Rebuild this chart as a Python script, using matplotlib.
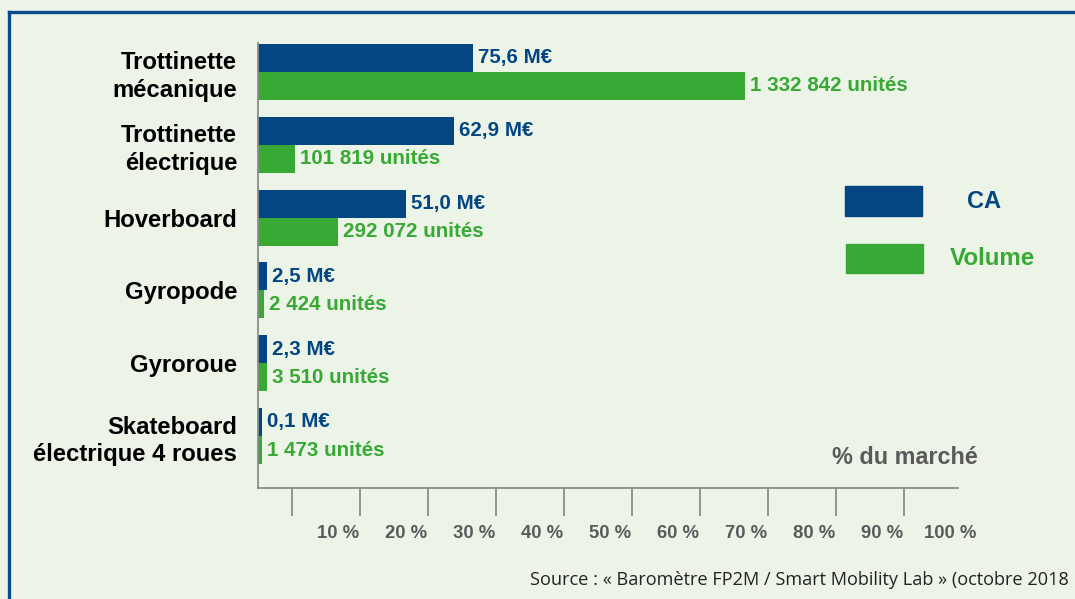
import matplotlib
matplotlib.use("Agg")
import matplotlib.pyplot as plt
from matplotlib.lines import Line2D
from matplotlib.patches import Rectangle
import matplotlib.transforms as mtransforms
import numpy as np

# data (share of market, %)
categories = ["Trottinette\nmécanique", "Trottinette\nélectrique", "Hoverboard",
              "Gyropode", "Gyroroue", "Skateboard\nélectrique 4 roues"]
ca_pct = [31.6, 28.8, 21.8, 1.3, 1.3, 0.6]
vol_pct = [71.6, 5.4, 11.8, 0.9, 1.3, 0.6]
ca_labels = ["75,6 M€", "62,9 M€", "51,0 M€", "2,5 M€", "2,3 M€", "0,1 M€"]
vol_labels = ["1 332 842 unités", "101 819 unités", "292 072 unités",
              "2 424 unités", "3 510 unités", "1 473 unités"]
tick_labels = ["10 %", "20 %", "30 %", "40 %", "50 %", "60 %", "70 %", "80 %", "90 %", "100 %"]

BLUE = "#034681"
GREEN = "#38a935"
GREY = "#5a5a5a"
BG = "#ecf4e8"

W, H = 1075, 599
fig = plt.figure(figsize=(W / 100, H / 100), dpi=100, facecolor=BG)
plt.rcParams['font.family'] = ['Liberation Sans', 'DejaVu Sans']

# axes box in pixels: left 258, right 958, top 43, bottom 488
ax = fig.add_axes([258 / W, 1 - 488 / H, 700 / W, 445 / H])
ax.set_facecolor(BG)

y = np.arange(len(categories))
h = 0.385
ax.barh(y - h / 2, ca_pct, height=h, color=BLUE)
ax.barh(y + h / 2, vol_pct, height=h, color=GREEN)

for i in range(len(categories)):
    ax.annotate(ca_labels[i], (ca_pct[i], y[i] - h / 2), xytext=(3.5, 0),
                textcoords="offset points", va="center", ha="left",
                fontsize=14.8, fontweight="bold", color=BLUE)
    ax.annotate(vol_labels[i], (vol_pct[i], y[i] + h / 2), xytext=(3.5, 0),
                textcoords="offset points", va="center", ha="left",
                fontsize=14.8, fontweight="bold", color=GREEN)

ax.set_xlim(0, 102.9)
ax.set_ylim(5.714, -0.398)

ax.set_yticks(y)
ax.set_yticklabels(categories, fontsize=17.2, fontweight="bold", linespacing=1.25)
ax.tick_params(axis="y", length=0, pad=15)

ax.set_xticks(np.arange(5, 100, 10))
ax.set_xticklabels([])
ax.tick_params(axis="x", direction="out", length=20, width=1.3, color="#8c8c8c")

trans = mtransforms.blended_transform_factory(ax.transData, fig.transFigure)
for k, lab in enumerate(tick_labels):
    ax.text((k + 1) * 10 + 1.7, 1 - 533 / H, lab, transform=trans, ha="center", va="center",
            fontsize=13.3, fontweight="bold", color=GREY)

for s in ["top", "right"]:
    ax.spines[s].set_visible(False)
for s in ["left", "bottom"]:
    ax.spines[s].set_color("#8c8c8c")
    ax.spines[s].set_linewidth(1.3)

fig.text(978 / W, 1 - 458 / H, "% du marché", ha="right", va="center",
         fontsize=16.8, fontweight="bold", color=GREY)

# legend
fig.patches.append(Rectangle((845 / W, 1 - 216 / H), 77 / W, 30 / H,
                             transform=fig.transFigure, color=BLUE))
fig.patches.append(Rectangle((846 / W, 1 - 273 / H), 77 / W, 29 / H,
                             transform=fig.transFigure, color=GREEN))
fig.text(984 / W, 1 - 202 / H, "CA", ha="center", va="center",
         fontsize=17, fontweight="bold", color=BLUE)
fig.text(992 / W, 1 - 258 / H, "Volume", ha="center", va="center",
         fontsize=17.4, fontweight="bold", color=GREEN)

fig.text(530 / W, 1 - 580 / H, "Source : « Baromètre FP2M / Smart Mobility Lab » (octobre 2018",
         ha="left", va="center", fontsize=13.1, color="#222222", family=["Open Sans", "DejaVu Sans"])

# frame lines
fig.lines.append(Line2D([8.5 / W, 8.5 / W], [0, 1 - 11.5 / H], transform=fig.transFigure,
                        color="#0a4a8a", linewidth=2.4, solid_capstyle="projecting"))
fig.lines.append(Line2D([8.5 / W, 1], [1 - 11.5 / H, 1 - 11.5 / H], transform=fig.transFigure,
                        color="#0a4a8a", linewidth=2.4, solid_capstyle="projecting"))

fig.savefig("out.png", dpi=100, facecolor=BG)
